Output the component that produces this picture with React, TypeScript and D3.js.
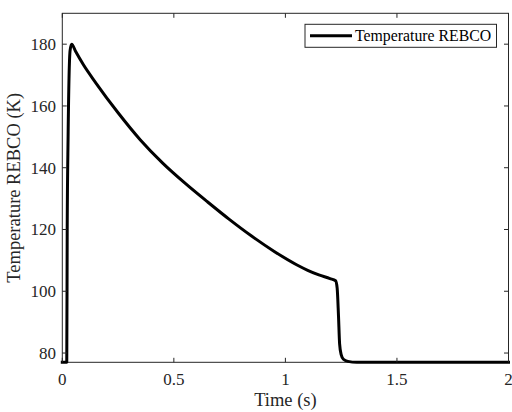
import React from "react";
import * as d3 from "d3";

const times = [0, 0.02, 0.022, 0.026, 0.035, 0.042, 0.06, 0.094, 0.15, 0.25, 0.35, 0.45, 0.55, 0.65, 0.75, 0.85, 0.95, 1.05, 1.1, 1.15, 1.2, 1.225, 1.232, 1.238, 1.243, 1.25, 1.26, 1.28, 1.32, 2];
const temps = [77, 77, 120, 150, 178, 180, 177.6, 173.4, 167.5, 157.8, 149.0, 141.5, 135.0, 129.0, 123.2, 117.8, 112.9, 108.6, 106.8, 105.3, 104.1, 103.4, 101, 92, 83, 79.5, 78, 77.3, 77, 77];
const xTicks = [0, 0.5, 1, 1.5, 2];
const xTickLabels = ["0", "0.5", "1", "1.5", "2"];
const yTicks = [80, 100, 120, 140, 160, 180];
const seriesName = "Temperature REBCO";
const xLabel = "Time (s)";
const yLabel = "Temperature REBCO (K)";

export default function App() {
  const W = 512, H = 412;
  const L = 62.3, R = 508.5, T = 13.3, B = 362.3;
  const x = d3.scaleLinear().domain([0, 2]).range([L, R]);
  const y = d3.scaleLinear().domain([77, 190]).range([B, T]);
  const data = times.map((t, i) => [t, temps[i]] as [number, number]);
  const line = d3.line<[number, number]>().x(d => x(d[0])).y(d => y(d[1])).curve(d3.curveMonotoneX);
  const ax = "#262626";
  const font = "'Liberation Serif', 'Times New Roman', serif";
  const tl = 4.5;
  return (
    <svg width={W} height={H} style={{ position: "absolute", left: 0, top: 0, background: "#fff" }} fontFamily={font}>
      <rect x={0} y={0} width={W} height={H} fill="#fff" />
      <rect x={L} y={T} width={R - L} height={B - T} fill="none" stroke={ax} strokeWidth={1} />
      <path d={line(data) || ""} fill="none" stroke="#000" strokeWidth={3} strokeLinejoin="round" strokeLinecap="square" />
      {xTicks.map((t, i) => (
        <g key={"x" + i}>
          <line x1={x(t)} x2={x(t)} y1={B} y2={B - tl} stroke={ax} />
          <line x1={x(t)} x2={x(t)} y1={T} y2={T + tl} stroke={ax} />
          <text x={x(t)} y={385} textAnchor="middle" fontSize={17} fill={ax}>{xTickLabels[i]}</text>
        </g>
      ))}
      {yTicks.map((v, i) => (
        <g key={"y" + i}>
          <line x1={L} x2={L + tl} y1={y(v)} y2={y(v)} stroke={ax} />
          <line x1={R} x2={R - tl} y1={y(v)} y2={y(v)} stroke={ax} />
          <text x={56} y={y(v)} dy="0.34em" textAnchor="end" fontSize={17} fill={ax}>{v}</text>
        </g>
      ))}
      <text x={(L + R) / 2} y={406} textAnchor="middle" fontSize={18.5} fill={ax}>{xLabel}</text>
      <text transform={`translate(19.5,${(T + B) / 2}) rotate(-90)`} textAnchor="middle" fontSize={18.5} fill={ax}>{yLabel}</text>
      <rect x={305} y={24.3} width={191.5} height={23} fill="#fff" stroke={ax} strokeWidth={1} />
      <line x1={310} x2={352} y1={35.8} y2={35.8} stroke="#000" strokeWidth={3} />
      <text x={355} y={35.8} dy="0.34em" fontSize={15.8} fill="#000">{seriesName}</text>
    </svg>
  );
}
